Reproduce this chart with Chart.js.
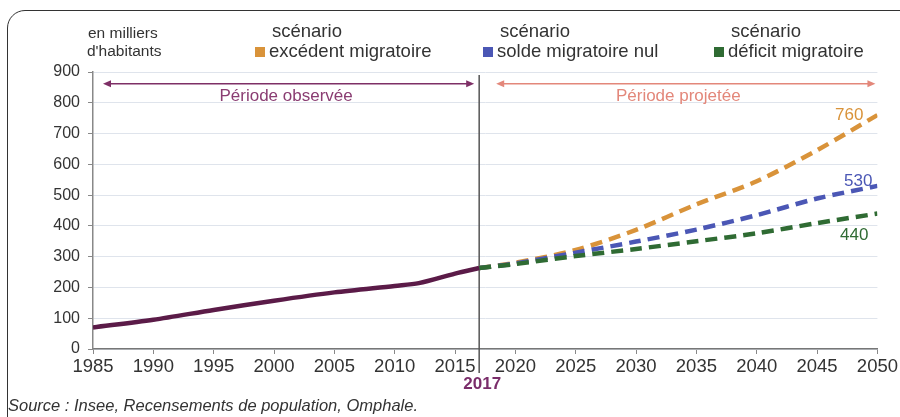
<!DOCTYPE html>
<html lang="fr">
<head>
<meta charset="utf-8">
<script src="https://cdn.jsdelivr.net/npm/chart.js@4/dist/chart.umd.min.js"></script>
<style>
    body { margin: 0; background: #fff; overflow: hidden; }
    #wrap { position: relative; width: 900px; height: 417px; }
    #frame {
        position: absolute; left: 7px; top: 10px; width: 1000px; height: 430px;
        border: 1.5px solid #333; border-radius: 18px; box-sizing: border-box;
    }
    #source {
        position: absolute; left: 8px; top: 396px;
        font: italic 16.5px "Liberation Sans", Arial, sans-serif; color: #333;
    }
    canvas { position: absolute; left: 0; top: 0; }
</style>
</head>
<body>
<div id="wrap">
    <div id="frame"></div>
    <canvas id="popChart" width="900" height="417"></canvas>
    <div id="source">Source : Insee, Recensements de population, Omphale.</div>
</div>
<script>
// Observed population (thousands)
const obsYears  = [1985, 1990, 1995, 2000, 2005, 2010, 2012, 2015, 2017];
const obsValues = [70, 95, 127, 157, 184, 205, 214, 245, 263];

// Projections 2017-2050
const projYears = [2017, 2020, 2025, 2030, 2035, 2040, 2045, 2050];
const excedent  = [263, 280, 322, 387, 470, 545, 646, 760];
const solde     = [263, 278, 313, 349, 388, 435, 489, 530];
const deficit   = [263, 276, 302, 325, 350, 376, 409, 440];

const legendLabels = ['excédent migratoire', 'solde migratoire nul', 'déficit migratoire'];
const endLabels = ['760', '530', '440'];
const splitYear = 2017;

const COL_OBS = '#5b1b48';
const COL_EXC = '#d9933a';
const COL_SOL = '#4b57b5';
const COL_DEF = '#2f6b33';
const FONT = '"Liberation Sans", Arial, sans-serif';

const toPoints = (xs, ys) => xs.map((x, i) => ({ x: x, y: ys[i] }));

function arrow(ctx, x1, x2, y, color) {
    ctx.save();
    ctx.strokeStyle = color;
    ctx.fillStyle = color;
    ctx.lineWidth = 1.5;
    ctx.beginPath();
    ctx.moveTo(x1 + 4, y);
    ctx.lineTo(x2 - 4, y);
    ctx.stroke();
    [[x1, 1], [x2, -1]].forEach(([x, d]) => {
        ctx.beginPath();
        ctx.moveTo(x, y);
        ctx.lineTo(x + d * 8, y - 3.5);
        ctx.lineTo(x + d * 8, y + 3.5);
        ctx.closePath();
        ctx.fill();
    });
    ctx.restore();
}

const decorPlugin = {
    id: 'decor',
    beforeDatasetsDraw(chart) {
        const ctx = chart.ctx;
        const xs = chart.scales.x;
        const area = chart.chartArea;
        const x = xs.getPixelForValue(splitYear);
        ctx.save();
        ctx.strokeStyle = '#555';
        ctx.lineWidth = 1.5;
        ctx.beginPath();
        ctx.moveTo(x, area.top + 3);
        ctx.lineTo(x, area.bottom + 24);
        ctx.stroke();
        ctx.restore();
    },
    afterDraw(chart) {
        const ctx = chart.ctx;
        const xs = chart.scales.x;
        const ys = chart.scales.y;
        const xSplit = xs.getPixelForValue(splitYear);
        const yArrow = ys.getPixelForValue(862);

        // period arrows
        arrow(ctx, xs.getPixelForValue(1985) + 10, xSplit - 5, yArrow, '#7e2f66');
        arrow(ctx, xSplit + 17, xs.getPixelForValue(2050) - 2, yArrow, '#e3877a');
        ctx.save();
        ctx.font = '17px ' + FONT;
        ctx.textAlign = 'center';
        ctx.textBaseline = 'middle';
        ctx.fillStyle = '#8a3d72';
        ctx.fillText('Période observée', (xs.getPixelForValue(1985) + xSplit) / 2, yArrow + 13);
        ctx.fillStyle = '#e3877a';
        ctx.fillText('Période projetée', (xSplit + xs.getPixelForValue(2050)) / 2, yArrow + 13);

        // 2017 label
        ctx.font = 'bold 17px ' + FONT;
        ctx.fillStyle = '#7a2d6a';
        ctx.fillText(String(splitYear), xSplit + 3, chart.chartArea.bottom + 35);

        // end values
        const ends = [excedent, solde, deficit];
        const cols = [COL_EXC, COL_SOL, COL_DEF];
        const offs = [[-14, 0], [-5, -5], [-9, 22]];
        ctx.font = '17px ' + FONT;
        ctx.textAlign = 'right';
        ends.forEach((arr, i) => {
            const px = xs.getPixelForValue(projYears[projYears.length - 1]);
            const py = ys.getPixelForValue(arr[arr.length - 1]);
            ctx.fillStyle = cols[i];
            ctx.fillText(endLabels[i], px + offs[i][0], py + offs[i][1]);
        });

        // axis title
        ctx.textAlign = 'left';
        ctx.fillStyle = '#333';
        ctx.font = '15.5px ' + FONT;
        ctx.fillText('en milliers', 88, 34);
        ctx.fillText("d'habitants", 87, 52);

        // legend
        const legX = [255, 483, 714];
        ctx.font = '18.5px ' + FONT;
        legendLabels.forEach((lab, i) => {
            ctx.fillStyle = cols[i];
            ctx.fillRect(legX[i], 47, 10, 10);
            ctx.fillStyle = '#333';
            ctx.fillText('scénario', legX[i] + 17, 32);
            ctx.fillText(lab, legX[i] + 14, 52);
        });
        ctx.restore();
    }
};

const dashed = (label, values, color, order) => ({
    label: label,
    data: toPoints(projYears, values),
    borderColor: color,
    backgroundColor: color,
    borderWidth: 4.5,
    borderDash: [12, 7],
    pointRadius: 0,
    tension: 0.3,
    order: order
});

new Chart(document.getElementById('popChart'), {
    type: 'line',
    data: {
        datasets: [
            {
                label: 'observé',
                data: toPoints(obsYears, obsValues),
                borderColor: COL_OBS,
                borderWidth: 4.5,
                pointRadius: 0,
                tension: 0.3,
                order: 0
            },
            dashed(legendLabels[0], excedent, COL_EXC, 3),
            dashed(legendLabels[1], solde, COL_SOL, 2),
            dashed(legendLabels[2], deficit, COL_DEF, 1)
        ]
    },
    options: {
        responsive: false,
        animation: false,
        layout: { padding: { top: 72, right: 19, left: 0, bottom: 0 } },
        scales: {
            x: {
                type: 'linear',
                min: 1985,
                max: 2050,
                afterFit: (s) => { s.height = 68; },
                ticks: {
                    stepSize: 5,
                    color: '#333',
                    padding: 2,
                    font: { size: 18.5, family: FONT },
                    callback: (v) => String(v)
                },
                grid: { drawOnChartArea: false, tickLength: 5, color: '#888' },
                border: { color: '#777', width: 1.5 }
            },
            y: {
                min: 0,
                max: 900,
                afterFit: (s) => { s.width = 93; },
                ticks: {
                    stepSize: 100,
                    color: '#333',
                    padding: 8,
                    font: { size: 16, family: FONT }
                },
                grid: { color: '#dfe4ec', tickColor: '#888', tickLength: 5 },
                border: { color: '#888', width: 1.5 }
            }
        },
        plugins: {
            legend: { display: false },
            tooltip: { enabled: false }
        }
    },
    plugins: [decorPlugin]
});
</script>
</body>
</html>
